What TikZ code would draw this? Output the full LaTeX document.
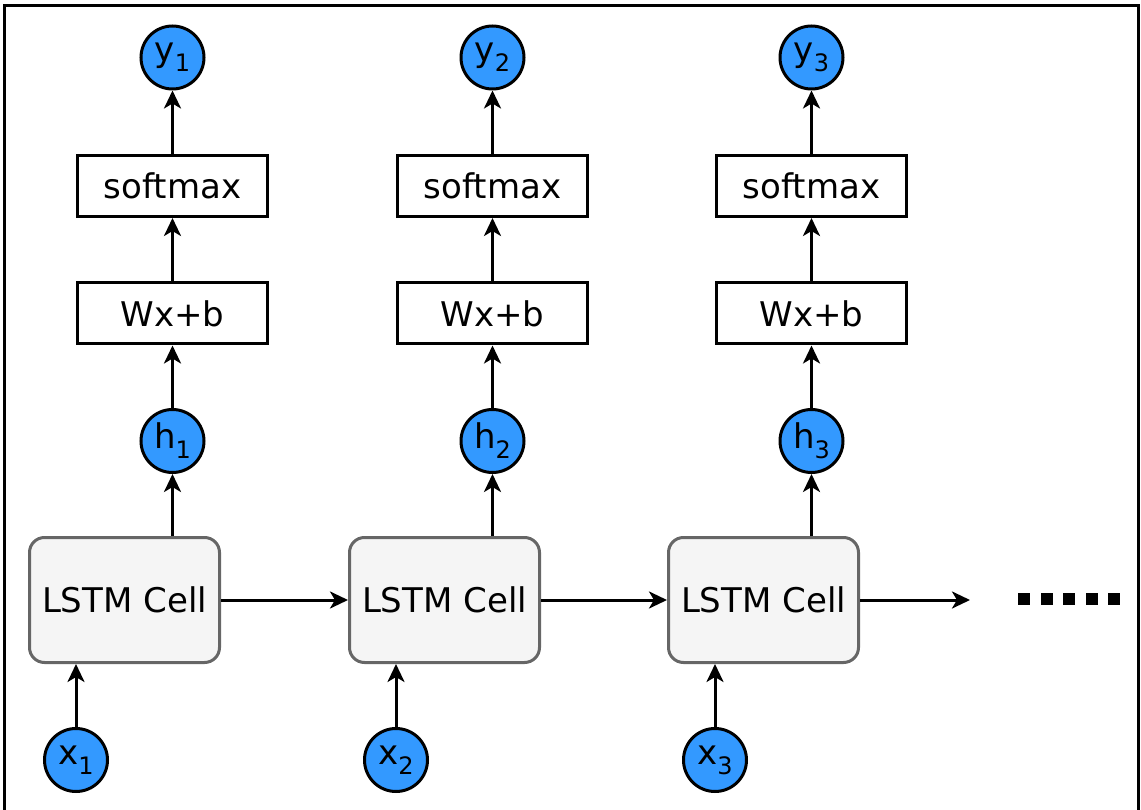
\documentclass[tikz,border=0pt]{standalone}
\usepackage{fontspec}
\setmainfont{DejaVu Sans}
\usetikzlibrary{arrows.meta}
\definecolor{nodeblue}{HTML}{3399FF}
\definecolor{cellfill}{HTML}{F5F5F5}
\definecolor{cellline}{HTML}{666666}
\newcommand{\mysubs}[1]{\raisebox{-10pt}{\fontsize{24}{24}\selectfont #1}}
\begin{document}
\begin{tikzpicture}[x=1pt,y=-1pt,
 vcirc/.style={circle, draw=black, fill=nodeblue, line width=3pt, minimum size=63pt, inner sep=0pt, font=\fontsize{34}{34}\selectfont},
 opbox/.style={rectangle, draw=black, line width=3pt, minimum width=190pt, minimum height=61pt, inner sep=0pt, font=\fontsize{34}{34}\selectfont},
 cellbox/.style={rectangle, rounded corners=15pt, draw=cellline, fill=cellfill, line width=3pt, minimum width=190pt, minimum height=125pt, inner sep=0pt, font=\fontsize{34}{34}\selectfont},
 conn/.style={line width=3pt, -{Stealth[length=18pt,width=17pt,inset=5pt]}},
 frame/.style={line width=3pt, draw=black},
 dotsq/.style={fill=black}]
\useasboundingbox (0,0) rectangle (1141,810);
\draw[frame] (4,815) -- (4,6) -- (1138,6) -- (1138,815);

\foreach \i/\dx in {1/0,2/320,3/639}{
  \node[vcirc] (y\i) at (172.5+\dx,57.5) {y\mysubs{\i}};
  \node[opbox] (s\i) at (172.5+\dx,186) {softmax};
  \node[opbox] (w\i) at (172.5+\dx,313.5) {Wx+b};
  \node[vcirc] (h\i) at (172.5+\dx,441) {h\mysubs{\i}};
  \node[cellbox] (c\i) at (124.5+\dx,600) {LSTM Cell};
  \node[vcirc] (x\i) at (76+\dx,760) {x\mysubs{\i}};
  \draw[conn] (s\i) -- (y\i);
  \draw[conn] (w\i) -- (s\i);
  \draw[conn] (h\i) -- (w\i);
  \draw[conn] (h\i |- c\i.north) -- (h\i);
  \draw[conn] (x\i) -- (x\i |- c\i.south);
}
\coordinate (cend) at (970,600);
\draw[conn] (c1) -- (c2);
\draw[conn] (c2) -- (c3);
\draw[conn] (c3) -- (cend);
\foreach \k in {0,...,4}{
  \fill[dotsq] (1018+22.5*\k,593) rectangle ++(12,12);
}
\end{tikzpicture}
\end{document}
